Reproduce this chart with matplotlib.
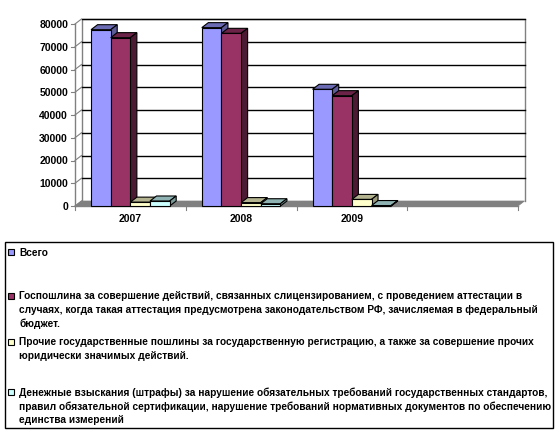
import numpy as np
import matplotlib.pyplot as plt
from matplotlib.patches import Polygon, Rectangle

plt.rcParams['font.family'] = ['Liberation Sans', 'DejaVu Sans']

# Data
years = ['2007', '2008', '2009', '']
total = [77500, 78400, 51300]
state_fee = [74000, 75900, 48500]
other_fees = [1700, 1500, 2900]
fines = [2200, 1000, 200]
series = [total, state_fee, other_fees, fines]

labels = [
    'Всего',
    'Госпошлина за совершение действий, связанных слицензированием, с проведением аттестации в\n'
    'случаях, когда такая аттестация предусмотрена законодательством РФ, зачисляемая в федеральный\n'
    'бюджет.',
    'Прочие государственные пошлины за государственную регистрацию, а также за совершение прочих\n'
    'юридически значимых действий.',
    'Денежные взыскания (штрафы) за нарушение обязательных требований государственных стандартов,\n'
    'правил обязательной сертификации, нарушение требований нормативных документов по обеспечению\n'
    'единства измерений',
]
front_colors = ['#9999FF', '#993366', '#FFFFCC', '#CCFFFF']
top_colors = ['#6B6BB3', '#6B2447', '#B3B38F', '#8FB3B3']
side_colors = ['#5C5C99', '#4D1A33', '#99997A', '#7A9999']

W, H = 560, 439
fig = plt.figure(figsize=(W / 100, H / 100), dpi=100)
ax = fig.add_axes([75 / W, 1 - 207 / H, 443 / W, 182 / H])
ncat = len(years)
ymax = 80000
ax.set_xlim(0, ncat)
ax.set_ylim(0, ymax)
ax.axis('off')

# depth offset in data units (~6.5 px right, 5 px up)
DX = 6.5 / (443 / ncat)
DY = 5 / 182 * ymax

# back wall frame and gridlines
ax.plot([DX, DX, ncat + DX, ncat + DX], [DY, ymax + DY, ymax + DY, DY],
        color='#808080', lw=1, clip_on=False, zorder=1)
for v in np.arange(10000, ymax + 1, 10000):
    ax.plot([DX, ncat + DX], [v + DY, v + DY], color='black', lw=1, clip_on=False, zorder=1)
for v in np.arange(0, ymax + 1, 10000):
    ax.plot([0, DX], [v, v + DY], color='#808080', lw=0.8, clip_on=False, zorder=1)
    ax.plot([-4 / (443 / ncat), 0], [v, v], color='#808080', lw=0.8, clip_on=False, zorder=1)
    ax.text(-7 / (443 / ncat), v, f'{int(v)}', ha='right', va='center',
            fontsize=7.5, fontweight='bold')

# y axis line
ax.plot([0, 0], [0, ymax], color='#808080', lw=1, clip_on=False, zorder=1)

# floor
ax.add_patch(Polygon([(0, 0), (DX, DY), (ncat + DX, DY), (ncat, 0)], closed=True,
                     facecolor='#808080', edgecolor='#808080', lw=0.5, zorder=1.5,
                     clip_on=False))
ax.plot([0, ncat], [0, 0], color='#808080', lw=1, clip_on=False, zorder=2)
for i in range(ncat + 1):
    ax.plot([i, i], [0, -4 / 182 * ymax], color='#808080', lw=0.8, clip_on=False)
for i, y in enumerate(years):
    ax.text(i + 0.5, -12 / 182 * ymax, y, ha='center', va='center',
            fontsize=7.5, fontweight='bold')

# 3D-looking clustered columns
gap = 0.145
bw = (1 - 2 * gap) / len(series)
for j, vals in enumerate(series):
    x = np.arange(len(vals)) + gap + j * bw
    z = 3 + j
    ax.bar(x, vals, bw, align='edge', color=front_colors[j], edgecolor='black',
           lw=0.8, zorder=z + 0.5, clip_on=False)
    for xi, v in zip(x, vals):
        ax.add_patch(Polygon([(xi, v), (xi + DX, v + DY), (xi + bw + DX, v + DY), (xi + bw, v)],
                             closed=True, facecolor=top_colors[j], edgecolor='black',
                             lw=0.8, zorder=z, clip_on=False))
        ax.add_patch(Polygon([(xi + bw, 0), (xi + bw, v), (xi + bw + DX, v + DY), (xi + bw + DX, DY)],
                             closed=True, facecolor=side_colors[j], edgecolor='black',
                             lw=0.8, zorder=z, clip_on=False))

# legend box
fig.patches.append(Rectangle((4.5 / W, 1 - 429 / H), 548 / W, 186 / H, transform=fig.transFigure,
                             facecolor='white', edgecolor='black', lw=1))
first_line_y = [253, 297, 343, 393]
for lab, col, yp in zip(labels, front_colors, first_line_y):
    fig.patches.append(Rectangle((8 / W, 1 - (yp + 3) / H), 6 / W, 6 / H, transform=fig.transFigure,
                                 facecolor=col, edgecolor='black', lw=0.8))
    fig.text(19 / W, 1 - (yp - 5.5) / H, lab, ha='left', va='top', fontsize=7.25,
             fontweight='bold', linespacing=1.4)

fig.savefig('out.png', dpi=100)
